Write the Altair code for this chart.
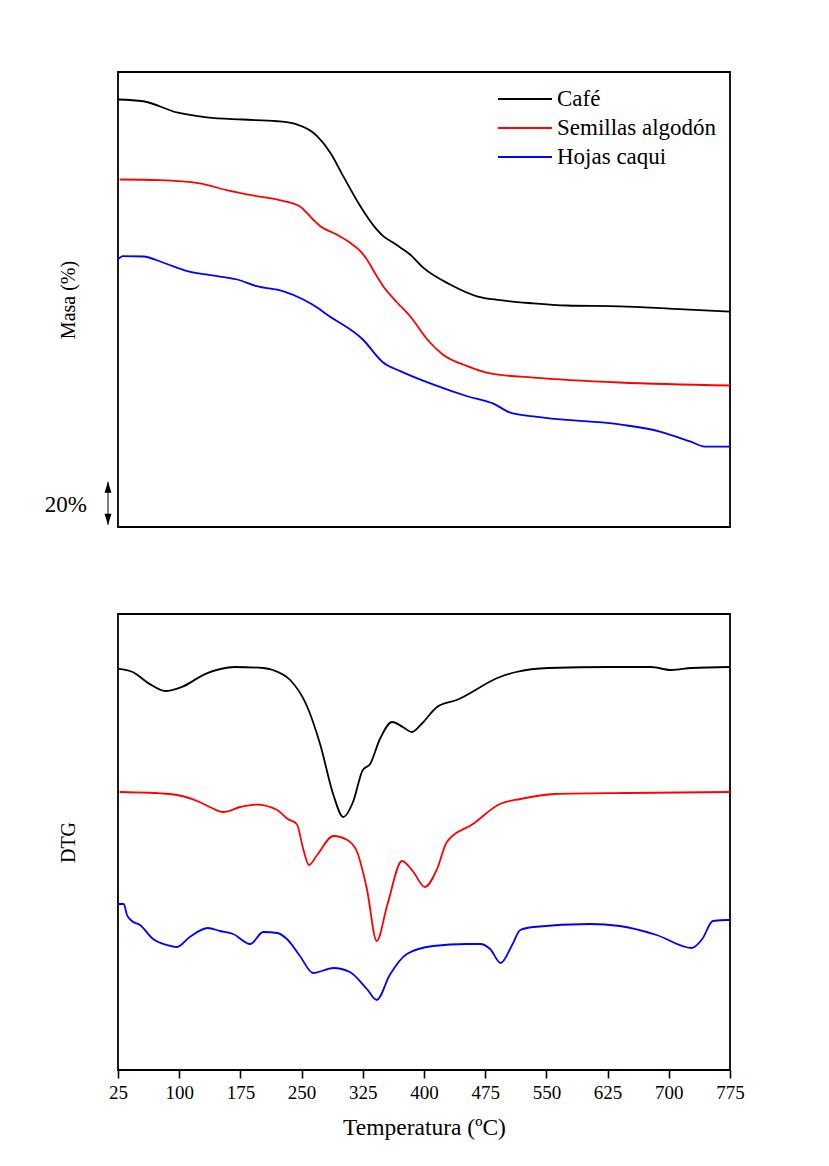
import altair as alt
import pandas as pd

SERIES = ["Café", "Semillas algodón", "Hojas caqui"]
COLORS = ["#000000", "#ff0000", "#0000ff"]
FONT = "Liberation Serif"

# ---- TG curves: temperature (ºC) and mass (%), curves stacked with an offset ----
tg_cafe_t = [25, 56, 97, 134, 178, 220, 244, 269, 285, 301, 322, 342, 350, 362,
             371, 383, 399, 432, 465, 493, 534, 575, 640, 700, 775]
tg_cafe_m = [198.8, 198.0, 192.8, 190.5, 189.5, 188.7, 187.2, 181.8, 174.2, 163.2,
             149.2, 138.4, 135.3, 132.3, 130.0, 126.7, 120.6, 112.8, 107.3, 105.5,
             104.0, 103.0, 102.6, 101.6, 100.2]

tg_algodon_t = [27, 76, 125, 158, 190, 223, 248, 264, 273, 293, 309, 322, 330, 342, 350,
                367, 383, 404, 423, 453, 481, 534, 640, 775]
tg_algodon_m = [161.6, 161.3, 159.8, 156.7, 154.2, 152.0, 149.1, 143.0, 139.9, 136.0,
                132.3, 128.3, 124.4, 116.7, 112.0, 104.4, 98.0, 87.2, 80.2, 74.8, 71.4,
                69.5, 67.2, 65.8]

tg_caqui_t = [25, 31, 56, 80, 110, 138, 171, 195, 227, 252, 269, 281, 325, 350, 371, 411,
              453, 485, 505, 534, 640, 689, 726, 744, 775]
tg_caqui_m = [124.4, 126.0, 125.8, 123.0, 119.0, 117.1, 115.1, 112.0, 109.7, 105.8, 102.1,
              98.8, 87.2, 76.5, 72.5, 66.3, 60.8, 57.4, 53.3, 51.4, 47.7, 44.4, 39.8,
              37.4, 37.4]

# ---- DTG curves: temperature (ºC) and derivative (u.a.), stacked with an offset ----
dtg_cafe_t = [25, 43, 63, 83, 103, 133, 168, 203, 215, 236, 256, 273, 289, 301, 313, 325,
              334, 346, 361, 374, 385, 397, 416, 440, 493, 513, 553, 628, 678,
              703, 728, 775]
dtg_cafe_v = [200.7, 199.0, 193.2, 189.5, 191.5, 198.2, 201.5, 201.0, 200.0, 195.0, 182.5,
              162.5, 137.5, 126.5, 134.0, 150.0, 153.0, 165.5, 174.0, 171.5, 169.0, 173.0,
              181.5, 185.0, 196.5, 199.0, 201.0, 201.5, 201.5, 200.0, 201.0, 201.5]

dtg_algodon_t = [27, 89, 125, 140, 154, 175, 195, 220, 233, 244, 252, 259, 269, 289, 306,
                 318, 330, 342, 355, 373, 387, 401, 416, 428, 460, 493, 518, 560, 650, 775]
dtg_algodon_v = [139.0, 138.0, 134.0, 131.0, 129.0, 131.5, 132.7, 130.0, 125.5, 123.0,
                 110.5, 102.5, 107.5, 117.0, 115.0, 109.0, 90.5, 64.5, 82.5, 104.5, 99.0,
                 91.5, 100.5, 114.0, 123.0, 133.0, 135.5, 138.0, 138.5, 139.0]

dtg_caqui_t = [25, 32, 36, 42, 52, 68, 85, 97, 113, 135, 150, 166, 187, 203, 220, 232, 248,
               264, 289, 309, 330, 342, 358, 379, 411, 453, 469, 481, 494, 508, 518, 534,
               603, 640, 685, 728, 741, 754, 772, 775]
dtg_caqui_v = [83.0, 83.0, 77.5, 74.5, 72.5, 65.5, 62.5, 61.5, 66.5, 71.0, 69.5, 68.0, 63.0,
               69.0, 68.5, 65.5, 57.0, 48.5, 51.0, 49.0, 40.5, 35.0, 47.5, 58.0, 62.0, 63.0,
               63.0, 60.5, 53.5, 62.5, 70.0, 71.5, 73.0, 72.0, 67.5, 61.0, 65.5, 74.5, 75.0,
               75.0]

X_TICKS = [25, 100, 175, 250, 325, 400, 475, 550, 625, 700, 775]


def long_frame(pairs):
    rows = []
    for name, ts, vs in pairs:
        for i, (t, v) in enumerate(zip(ts, vs)):
            rows.append({"serie": name, "T": t, "v": v, "i": i})
    return pd.DataFrame(rows)


tg = long_frame([
    (SERIES[0], tg_cafe_t, tg_cafe_m),
    (SERIES[1], tg_algodon_t, tg_algodon_m),
    (SERIES[2], tg_caqui_t, tg_caqui_m),
])
dtg = long_frame([
    (SERIES[0], dtg_cafe_t, dtg_cafe_v),
    (SERIES[1], dtg_algodon_t, dtg_algodon_v),
    (SERIES[2], dtg_caqui_t, dtg_caqui_v),
])

color_scale = alt.Scale(domain=SERIES, range=COLORS)
x_scale = alt.Scale(domain=[25, 775], nice=False, zero=False)
LINE_W = 1.8

# ---------------- top panel: TG ----------------
tg_y = alt.Y(
    "v:Q",
    scale=alt.Scale(domain=[0, 211.6], nice=False, zero=False),
    axis=alt.Axis(title="Masa (%)", labels=False, ticks=False, domain=False, grid=False,
                  titleFont=FONT, titleFontSize=20, titleFontWeight="normal",
                  titleColor="black", titleX=-50, titleY=227.5, titleAngle=270,
                  titleAlign="center", titleBaseline="middle"),
)

tg_lines = alt.Chart(tg).mark_line(strokeWidth=LINE_W, interpolate="monotone").encode(
    x=alt.X("T:Q", scale=x_scale, axis=None),
    y=tg_y,
    color=alt.Color(
        "serie:N", scale=color_scale,
        legend=alt.Legend(title=None, orient="none", legendX=379, legendY=14,
                          symbolType="stroke", symbolSize=2916, symbolStrokeWidth=LINE_W,
                          clipHeight=26, rowPadding=3,
                          labelFont=FONT, labelFontSize=23, labelColor="black",
                          labelOffset=4),
    ),
    order="i:Q",
)

# 20 % scale bar drawn beside the mass axis
scale_bar = pd.DataFrame({"v": [1], "v2": [21]})
bar_rule = alt.Chart(scale_bar).mark_rule(color="black", strokeWidth=1).encode(
    x=alt.value(-10), y=alt.Y("v:Q"), y2="v2:Q"
)
head_up = alt.Chart(pd.DataFrame({"v": [21]})).mark_point(
    shape="M0,0L-0.35,1.1L0.35,1.1Z", filled=True, color="black", size=400, opacity=1
).encode(x=alt.value(-10), y="v:Q")
head_down = alt.Chart(pd.DataFrame({"v": [1]})).mark_point(
    shape="M0,0L-0.35,-1.1L0.35,-1.1Z", filled=True, color="black", size=400, opacity=1
).encode(x=alt.value(-10), y="v:Q")
bar_text = alt.Chart(pd.DataFrame({"v": [10], "txt": ["20%"]})).mark_text(
    font=FONT, fontSize=23, align="right", baseline="middle", color="black"
).encode(x=alt.value(-31), y="v:Q", text="txt:N")

top = alt.layer(tg_lines, bar_rule, head_up, head_down, bar_text).properties(
    width=612, height=455
)

# ---------------- bottom panel: DTG ----------------
dtg_lines = alt.Chart(dtg).mark_line(strokeWidth=LINE_W, interpolate="monotone").encode(
    x=alt.X(
        "T:Q", scale=x_scale,
        axis=alt.Axis(title="Temperatura (ºC)", values=X_TICKS, grid=False, domain=False,
                      ticks=True, tickSize=8, tickWidth=1.6, tickColor="black",
                      labelFont=FONT, labelFontSize=19, labelColor="black",
                      labelPadding=5, labelFlush=False,
                      titleFont=FONT, titleFontSize=23.5, titleFontWeight="normal",
                      titleColor="black", titlePadding=13),
    ),
    y=alt.Y(
        "v:Q",
        scale=alt.Scale(domain=[0, 228], nice=False, zero=False),
        axis=alt.Axis(title="DTG", labels=False, ticks=False, domain=False, grid=False,
                      titleFont=FONT, titleFontSize=20, titleFontWeight="normal",
                      titleColor="black", titleX=-50, titleY=228, titleAngle=270,
                      titleAlign="center", titleBaseline="middle"),
    ),
    color=alt.Color("serie:N", scale=color_scale, legend=None),
    order="i:Q",
)

bottom = dtg_lines.properties(width=612, height=456)

chart = alt.vconcat(top, bottom, spacing=85).properties(
    padding={"left": 43, "top": 71, "right": 10, "bottom": 10},
    autosize=alt.AutoSizeParams(type="pad"),
    background="white",
).configure_view(stroke="black", strokeWidth=1.8)

chart.save("out.html", embed_options={"renderer": "svg", "actions": False})
